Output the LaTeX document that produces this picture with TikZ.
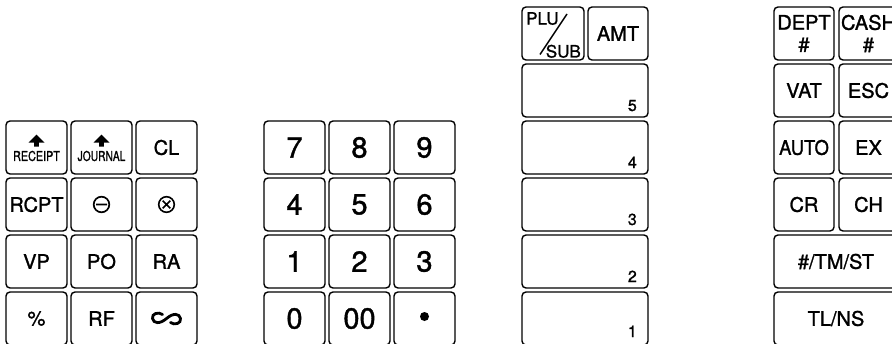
\documentclass[tikz,border=0pt]{standalone}
\usepackage{fontspec}
\setmainfont{TeX Gyre Heros}
\newfontfamily\medfont[BoldFont={TeX Gyre Heros},BoldFeatures={FakeBold=1.3}]{TeX Gyre Heros}
\usetikzlibrary{calc}
\tikzset{
  keybox/.style={draw, line width=1.4pt, rounded corners=4pt, inner sep=0pt, outer sep=0pt,
    minimum width=61pt, minimum height=53pt, align=center,
    font=\medfont\bfseries\fontsize{20}{22}\selectfont},
  digitkey/.style={keybox, font=\medfont\bfseries\fontsize{29}{29}\selectfont},
  tinylbl/.style={inner sep=0pt, font=\medfont\bfseries\fontsize{13.5}{13.5}\selectfont},
  corner/.style={inner sep=0pt, font=\medfont\bfseries\fontsize{17}{17}\selectfont},
  cornerdigit/.style={anchor=base east, inner sep=0pt, font=\medfont\bfseries\fontsize{16}{16}\selectfont},
}
\begin{document}
\begin{tikzpicture}[x=1pt,y=-1pt]
\fill[white] (0,0) rectangle (892,343);
\useasboundingbox (0,0) rectangle (892,343);
\clip (0,0) rectangle (892,343);

% ---------- left group ----------
\node[keybox] (receipt) at (36.5,147.5) {};
\node[keybox] (journal) at (101.5,147.5) {};
\node[keybox] (cl) at (166.5,147.5) {CL};
\node[keybox] (rcpt) at (36.5,204.5) {RCPT};
\node[keybox] (minus) at (101.5,204.5) {};
\node[keybox] (times) at (166.5,204.5) {};
\node[keybox] (vp) at (36.5,261.5) {VP};
\node[keybox] (po) at (101.5,261.5) {PO};
\node[keybox] (ra) at (166.5,261.5) {RA};
\node[keybox] (pct) at (36.5,318.5) {\%};
\node[keybox] (rf) at (101.5,318.5) {RF};
\node[keybox] (void) at (166.5,318.5) {};

\fill[shift={(receipt.center)}] (-8,-5) -- (0,-13) -- (8,-5) -- (2.4,-5) -- (2.4,-1) -- (-2.4,-1) -- (-2.4,-5) -- cycle;
\node[tinylbl] (receipttxt) at ($(receipt.center)+(0,8.5)$) {\scalebox{0.8}[1]{RECEIPT}};
\fill[shift={(journal.center)}] (-8,-5) -- (0,-13) -- (8,-5) -- (2.4,-5) -- (2.4,-1) -- (-2.4,-1) -- (-2.4,-5) -- cycle;
\node[tinylbl] (journaltxt) at ($(journal.center)+(0,8.5)$) {\scalebox{0.76}[1]{JOURNAL}};

\draw[line width=1.7pt, shift={(minus.center)}] (0,0) circle[radius=7.8pt] (-5.5,0) -- (5.5,0);
\draw[line width=1.6pt, shift={(times.center)}] (0,0) circle[radius=7.8pt] (-3.8,-3.8) -- (3.8,3.8) (-3.8,3.8) -- (3.8,-3.8);
\draw[line width=2.8pt, line cap=round, shift={(void.center)}]
  (-4,-4) .. controls (-8,-7) and (-15,-5) .. (-14,0)
  .. controls (-13,5) and (-7,6) .. (0,0)
  .. controls (7,-6) and (13,-5) .. (14,0)
  .. controls (15,5) and (8,7) .. (4,4);

% ---------- numeric group ----------
\node[digitkey] (n7) at (294.5,147.5) {7};
\node[digitkey] (n8) at (359.5,147.5) {8};
\node[digitkey] (n9) at (424.5,147.5) {9};
\node[digitkey] (n4) at (294.5,204.5) {4};
\node[digitkey] (n5) at (359.5,204.5) {5};
\node[digitkey] (n6) at (424.5,204.5) {6};
\node[digitkey] (n1) at (294.5,261.5) {1};
\node[digitkey] (n2) at (359.5,261.5) {2};
\node[digitkey] (n3) at (424.5,261.5) {3};
\node[digitkey] (n0) at (294.5,318.5) {0};
\node[digitkey] (n00) at (359.5,318.5) {00};
\node[digitkey] (dot) at (424.5,318.5) {};
\fill ($(dot.center)+(0,-2)$) circle[radius=4.5pt];

% ---------- PLU / department keys ----------
\node[keybox, minimum width=62pt] (plu) at (553,33.5) {};
\node[keybox, minimum width=60pt] (amt) at (618,33.5) {AMT};
\node[corner, anchor=north west] (plutxt) at ($(plu.north west)+(4,5)$) {PLU};
\node[corner, anchor=south east] (subtxt) at ($(plu.south east)+(-3,-2)$) {SUB};
\draw[line width=1.4pt] ($(plu.center)+(-13,21)$) -- ($(plu.center)+(14,-19.5)$);

\node[keybox, minimum width=126pt] (d5) at (585,90.5) {};
\node[keybox, minimum width=126pt] (d4) at (585,147.5) {};
\node[keybox, minimum width=126pt] (d3) at (585,204.5) {};
\node[keybox, minimum width=126pt] (d2) at (585,261.5) {};
\node[keybox, minimum width=126pt] (d1) at (585,318.5) {};
\node[cornerdigit] at ($(d5.south east)+(-11,-6)$) {5};
\node[cornerdigit] at ($(d4.south east)+(-11,-6)$) {4};
\node[cornerdigit] at ($(d3.south east)+(-11,-6)$) {3};
\node[cornerdigit] at ($(d2.south east)+(-11,-6)$) {2};
\node[cornerdigit] at ($(d1.south east)+(-11,-8)$) {1};

% ---------- right group ----------
\node[keybox, minimum width=60pt] (dept) at (804,33.5) {DEPT\\\#};
\node[keybox, minimum width=59pt] (cash) at (868.5,33.5) {CASH\\\#};
\node[keybox, minimum width=60pt] (vat) at (804,90.5) {VAT};
\node[keybox, minimum width=59pt] (esc) at (868.5,90.5) {ESC};
\node[keybox, minimum width=60pt] (auto) at (804,147.5) {\scalebox{0.92}[1]{AUTO}};
\node[keybox, minimum width=59pt] (ex) at (868.5,147.5) {EX};
\node[keybox, minimum width=60pt] (cr) at (804,204.5) {CR};
\node[keybox, minimum width=59pt] (ch) at (868.5,204.5) {CH};
\node[keybox, minimum width=124pt] (tmst) at (836,261.5) {\#/TM/ST};
\node[keybox, minimum width=124pt] (tlns) at (836,318.5) {TL/NS};
\end{tikzpicture}
\end{document}
